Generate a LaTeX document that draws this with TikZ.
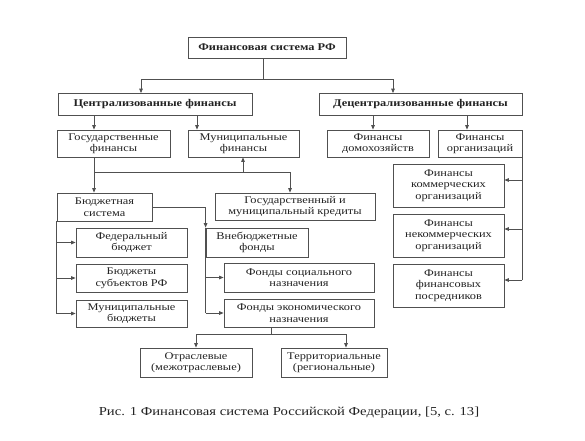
\documentclass[tikz,border=0pt]{standalone}
\usepackage{fontspec}
\setmainfont{Liberation Serif}[FakeStretch=1.2]
\usetikzlibrary{arrows.meta}
\definecolor{linec}{HTML}{505050}
\definecolor{txtc}{HTML}{222222}
\begin{document}
\begin{tikzpicture}[x=1pt,y=-1pt,
  box/.style={draw=linec, line width=0.8pt, align=center, inner sep=1pt, text=txtc,
    font=\fontsize{10.3}{11.5}\selectfont},
  sz/.style 2 args={minimum width=#1pt, minimum height=#2pt},
  ln/.style={draw=linec, line width=0.8pt},
  arr/.style={ln, -{Triangle[length=4.5pt,width=3.6pt]}}]
\useasboundingbox (0,0) rectangle (585,440);
% boxes
\node[box, sz={158}{21}] (top)  at (267,47.5)  {\textbf{Финансовая система РФ}};
\node[box, sz={194}{22}] (cent) at (155,104.5) {\textbf{Централизованные финансы}};
\node[box, sz={203}{22}] (dec)  at (420.5,104.5) {\textbf{Децентрализованные финансы}};
\node[box, sz={113}{27}] (gos)  at (113.5,143.5) {Государственные\\финансы};
\node[box, sz={111}{27}] (mun)  at (243.5,143.5) {Муниципальные\\финансы};
\node[box, sz={102}{27}] (dom)  at (378,143.5) {Финансы\\домохозяйств};
\node[box, sz={84}{27}]  (org)  at (480,143.5) {Финансы\\организаций};
\node[box, sz={95}{28}]  (bud)  at (104.5,207) {Бюджетная\\система};
\node[box, sz={160}{27}] (kred) at (295,206.5) {Государственный и\\муниципальный кредиты};
\node[box, sz={111}{29}] (fed)  at (131.5,242.5) {Федеральный\\бюджет};
\node[box, sz={111}{28}] (subj) at (131.5,278) {Бюджеты\\субъектов РФ};
\node[box, sz={111}{27}] (munb) at (131.5,313.5) {Муниципальные\\бюджеты};
\node[box, sz={102}{29}] (vneb) at (257,242.5) {Внебюджетные\\фонды};
\node[box, sz={150}{29}] (soc)  at (299,277.5) {Фонды социального\\назначения};
\node[box, sz={150}{28}] (econ) at (299,313) {Фонды экономического\\назначения};
\node[box, sz={112}{29}] (otr)  at (196,362.5) {Отраслевые\\(межотраслевые)};
\node[box, sz={106}{29}] (ter)  at (334,362.5) {Территориальные\\(региональные)};
\node[box, sz={111}{43}] (comm) at (448.5,185.5) {Финансы\\коммерческих\\организаций};
\node[box, sz={111}{43}] (nonc) at (448.5,235.5) {Финансы\\некоммерческих\\организаций};
\node[box, sz={111}{43}] (posr) at (448.5,285.5) {Финансы\\финансовых\\посредников};
\node[text=txtc, font=\fontsize{12.2}{14}\selectfont, inner sep=0pt] (cap) at (289,413)
  {Рис. 1 Финансовая система Российской Федерации, [5, с. 13]};
% top level
\coordinate (a0) at (263,79);
\coordinate (a1) at (141,79);
\coordinate (a2) at (393,79);
\draw[ln] (top.south -| a0) -- (a0);
\draw[ln] (a1) -- (a2);
\draw[arr] (a1) -- (cent.north -| a1);
\draw[arr] (a2) -- (dec.north -| a2);
% second level
\coordinate (b1) at (94,0);
\coordinate (b2) at (197,0);
\coordinate (b3) at (373,0);
\coordinate (b4) at (467,0);
\draw[arr] (cent.south -| b1) -- (gos.north -| b1);
\draw[arr] (cent.south -| b2) -- (mun.north -| b2);
\draw[arr] (dec.south -| b3) -- (dom.north -| b3);
\draw[arr] (dec.south -| b4) -- (org.north -| b4);
% gos/mun to budget and credits
\coordinate (c0) at (94,172);
\coordinate (c1) at (243,172);
\coordinate (c2) at (290,172);
\draw[ln] (gos.south -| c0) -- (c0) -- (c2);
\draw[arr] (c0) -- (bud.north -| c0);
\draw[arr] (c1) -- (mun.south -| c1);
\draw[arr] (c2) -- (kred.north -| c2);
% budget system
\draw[ln] (bud.south west) -- (bud.south west |- munb.west);
\draw[arr] (bud.south west |- fed.west) -- (fed.west);
\draw[arr] (bud.south west |- subj.west) -- (subj.west);
\draw[arr] (bud.south west |- munb.west) -- (munb.west);
% extra-budget funds
\draw[arr] (bud.east) -| (vneb.north west);
\draw[ln] (vneb.north west) -- (vneb.north west |- econ.west);
\draw[arr] (vneb.north west |- soc.west) -- (soc.west);
\draw[arr] (vneb.north west |- econ.west) -- (econ.west);
% economic funds split
\coordinate (f0) at (271,334);
\coordinate (f1) at (196,334);
\coordinate (f2) at (346,334);
\draw[ln] (econ.south -| f0) -- (f0);
\draw[ln] (f1) -- (f2);
\draw[arr] (f1) -- (otr.north -| f1);
\draw[arr] (f2) -- (ter.north -| f2);
% organisations
\coordinate (g1) at (0,180);
\coordinate (g2) at (0,229);
\coordinate (g3) at (0,280);
\draw[ln] (org.south east) -- (org.south east |- g3);
\draw[arr] (org.south east |- g1) -- (comm.east |- g1);
\draw[arr] (org.south east |- g2) -- (nonc.east |- g2);
\draw[arr] (org.south east |- g3) -- (posr.east |- g3);
\end{tikzpicture}
\end{document}
